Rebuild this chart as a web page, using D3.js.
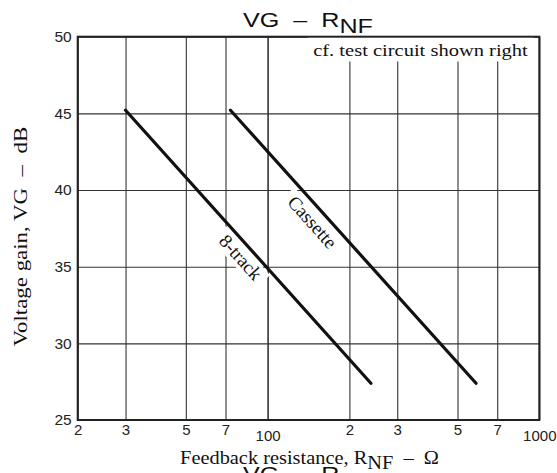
<!DOCTYPE html>
<html>
<head>
<meta charset="utf-8">
<script src="https://cdn.jsdelivr.net/npm/d3@7"></script>
<style>
  body { margin: 0; background: #fff; }
  svg { display: block; }
  .sans { font-family: "Liberation Sans", Arial, sans-serif; }
  .serif { font-family: "Liberation Serif", "Times New Roman", serif; }
</style>
</head>
<body>
<svg width="557" height="473"></svg>
<script>
// data
const xTicks = [20, 30, 50, 70, 100, 200, 300, 500, 700, 1000];
const xTickLabels = ["2", "3", "5", "7", "100", "2", "3", "5", "7", "1000"];
const yTicks = [25, 30, 35, 40, 45, 50];

const eightTrackR = [30, 240];
const eightTrackVG = [45.2, 27.4];
const cassetteR = [73, 585];
const cassetteVG = [45.2, 27.4];

const curveNames = ["8-track", "Cassette"];
const labelR = [79.5, 146];
const labelVG = [35.6, 37.9];

var svg = d3.select("svg");

// plot box (note: "top" is taken by window.top)
var plotL = 77.7, plotR = 539.3, plotT = 36.7, plotB = 420;

var x = d3.scaleLog().domain([20, 1000]).range([plotL, plotR]);
var y = d3.scaleLinear().domain([25, 50]).range([plotB, plotT]);

// scale a text horizontally so it spans w pixels (text-anchor middle at 0)
function fitWidth(text, w) {
  var bw = text.node().getBBox().width;
  text.attr("transform", "scale(" + (w / bw) + ",1)");
}

// grid via axes
var xAxis = svg.append("g")
  .attr("transform", "translate(0," + plotB + ")")
  .call(d3.axisBottom(x)
    .tickValues(xTicks)
    .tickSize(-(plotB - plotT))
    .tickPadding(4)
    .tickFormat(function (d, i) { return xTickLabels[i]; }));

xAxis.select(".domain").remove();
xAxis.selectAll("line")
  .attr("stroke", "#333")
  .attr("stroke-width", function (d) { return d === 100 ? 1.6 : 1.1; });
xAxis.selectAll("text")
  .attr("class", "sans")
  .attr("font-size", 15)
  .attr("fill", "#222")
  .attr("y", function (d) { return (d === 100 || d === 1000) ? 10 : 4; });

var yAxis = svg.append("g")
  .attr("transform", "translate(" + plotL + ",0)")
  .call(d3.axisLeft(y)
    .tickValues(yTicks)
    .tickSize(-(plotR - plotL))
    .tickPadding(6));

yAxis.select(".domain").remove();
yAxis.selectAll("line")
  .attr("stroke", "#333")
  .attr("stroke-width", 1.1);
yAxis.selectAll("text")
  .attr("class", "sans")
  .attr("font-size", 15.5)
  .attr("fill", "#222");

// note box in the top right corner
var note = svg.append("g").attr("transform", "translate(420.5,56)");
note.append("rect")
  .attr("x", -113).attr("y", -19)
  .attr("width", 226).attr("height", 24.5)
  .attr("fill", "#fff");
var noteText = note.append("text")
  .attr("class", "serif")
  .attr("font-size", 17)
  .attr("text-anchor", "middle")
  .attr("fill", "#111")
  .text("cf. test circuit shown right");
fitWidth(noteText, 215);

// curve labels (white boxes hide the grid behind them)
var angle = Math.atan2(y(eightTrackVG[1]) - y(eightTrackVG[0]),
  x(eightTrackR[1]) - x(eightTrackR[0])) * 180 / Math.PI;

var labels = svg.append("g")
  .selectAll("g")
  .data(curveNames)
  .enter().append("g")
  .attr("transform", function (d, i) {
    return "translate(" + x(labelR[i]) + "," + y(labelVG[i]) + ") rotate(" + angle + ")";
  });

labels.append("rect")
  .attr("fill", "#fff")
  .attr("y", -10)
  .attr("height", 20)
  .attr("x", function (d) { return d === "Cassette" ? -38 : -33; })
  .attr("width", function (d) { return d === "Cassette" ? 76 : 66; });

// curves
var line = d3.line()
  .x(function (d) { return x(d[0]); })
  .y(function (d) { return y(d[1]); });

var curves = [d3.zip(eightTrackR, eightTrackVG), d3.zip(cassetteR, cassetteVG)];

svg.append("g")
  .selectAll("path")
  .data(curves)
  .enter().append("path")
  .attr("d", line)
  .attr("fill", "none")
  .attr("stroke", "#111")
  .attr("stroke-width", 3.2)
  .attr("stroke-linecap", "round");

labels.append("text")
  .attr("class", "serif")
  .attr("font-size", 19)
  .attr("text-anchor", "middle")
  .attr("dy", "0.33em")
  .attr("fill", "#111")
  .text(function (d) { return d; });

// frame
svg.append("rect")
  .attr("x", plotL).attr("y", plotT)
  .attr("width", plotR - plotL).attr("height", plotB - plotT)
  .attr("fill", "none")
  .attr("stroke", "#222")
  .attr("stroke-width", 2);

// titles
function title(baseline) {
  var g = svg.append("g").attr("transform", "translate(308," + baseline + ")");
  var t = g.append("text")
    .attr("class", "sans")
    .attr("font-size", 20.5)
    .attr("text-anchor", "middle")
    .attr("fill", "#111")
    .style("white-space", "pre");
  t.append("tspan").text("VG  \u2013  R");
  t.append("tspan").attr("dy", 6).text("NF");
  fitWidth(t, 130);
}
title(27);
title(481);

// x axis title
var xl = svg.append("g").attr("transform", "translate(309.5,464)");
var xt = xl.append("text")
  .attr("class", "serif")
  .attr("font-size", 19)
  .attr("text-anchor", "middle")
  .attr("fill", "#111")
  .style("white-space", "pre");
xt.append("tspan").text("Feedback resistance, R");
xt.append("tspan").attr("dy", 5).text("NF");
xt.append("tspan").attr("dy", -5).text("  \u2013  \u03a9");
fitWidth(xt, 259);

// y axis title
var yl = svg.append("g").attr("transform", "translate(26.7,236.7) rotate(-90)");
var yt = yl.append("text")
  .attr("class", "serif")
  .attr("font-size", 19)
  .attr("text-anchor", "middle")
  .attr("fill", "#111")
  .style("white-space", "pre")
  .text("Voltage gain, VG  \u2013  dB");
fitWidth(yt, 220);
</script>
</body>
</html>
